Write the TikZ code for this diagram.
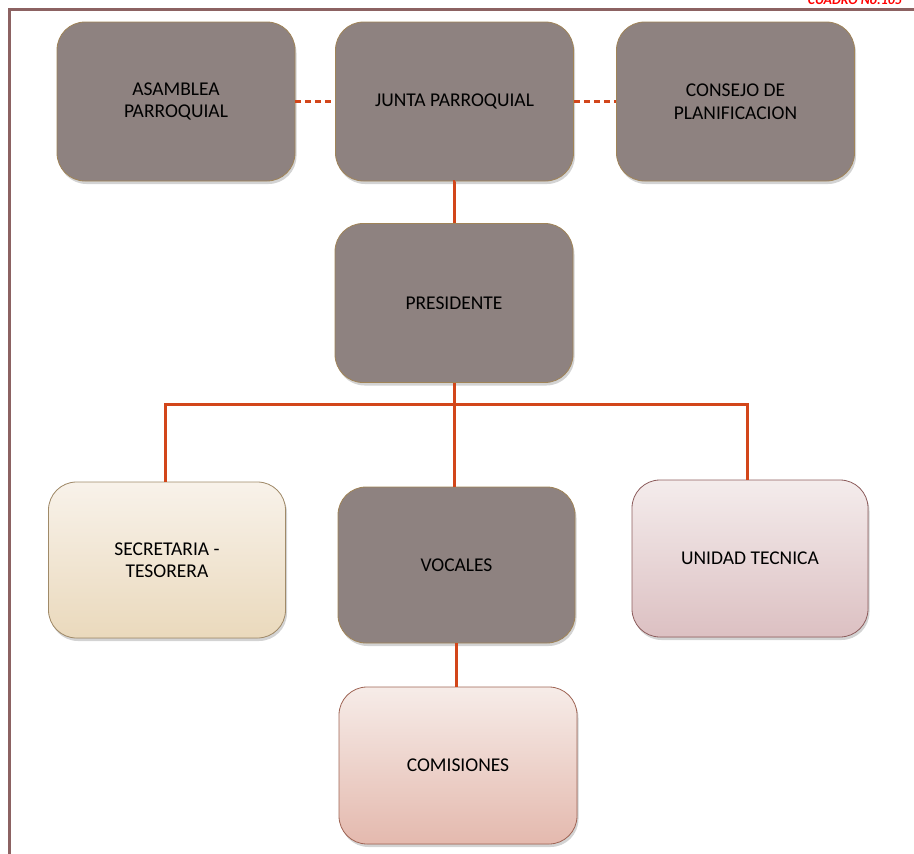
\documentclass[tikz,border=0pt]{standalone}
\usepackage{fontspec}
\setmainfont{Carlito}
\usetikzlibrary{shadows}
\definecolor{boxgray}{HTML}{8E8280}
\definecolor{boxedge}{HTML}{A08458}
\definecolor{lineor}{HTML}{D2461A}
\definecolor{framec}{HTML}{8C6262}
\definecolor{BrownTan}{HTML}{A08A68}
\definecolor{SecTop}{HTML}{F8F2EA}
\definecolor{SecBot}{HTML}{EAD9BC}
\definecolor{UniEdge}{HTML}{8E5E5E}
\definecolor{UniTop}{HTML}{F4ECEC}
\definecolor{UniBot}{HTML}{DCC0C2}
\definecolor{ComEdge}{HTML}{A06656}
\definecolor{ComTop}{HTML}{F6ECE8}
\definecolor{ComBot}{HTML}{E4B9AE}
\tikzset{
  orgbox/.style={draw=boxedge, line width=0.8pt, fill=boxgray, rounded corners=28pt,
    minimum width=238pt, minimum height=159pt, align=center, font=\fontsize{19.5}{22.5}\selectfont,
    text=black, drop shadow={shadow xshift=1.5pt, shadow yshift=-3pt, opacity=0.35}},
  secbox/.style={orgbox, draw=BrownTan, top color=SecTop, bottom color=SecBot},
  unibox/.style={orgbox, draw=UniEdge, top color=UniTop, bottom color=UniBot},
  combox/.style={orgbox, draw=ComEdge, top color=ComTop, bottom color=ComBot},
  conn/.style={draw=lineor, line width=3pt},
  dconn/.style={conn, dash pattern=on 6pt off 4pt},
}
\begin{document}
\begin{tikzpicture}[x=1pt,y=-1pt]
\useasboundingbox (0,0) rectangle (914,854);
% frame
\draw[framec, line width=3pt] (9.5,854) -- (9.5,9.5) -- (914,9.5);
\node[anchor=base east, text=red, font=\fontsize{13.8}{16}\selectfont\bfseries\itshape, inner sep=0pt] (title) at (902,4.5) {CUADRO No.105};
% boxes
\node[orgbox] (asam) at (176,101.5) {ASAMBLEA\\PARROQUIAL};
\node[orgbox] (junta) at (454.5,101.5) {JUNTA PARROQUIAL};
\node[orgbox] (cons) at (735.5,101.5) {CONSEJO DE\\PLANIFICACION};
\node[orgbox] (pres) at (454,303) {PRESIDENTE};
\node[secbox, minimum width=237pt, minimum height=156pt] (sec) at (167,560) {SECRETARIA -\\TESORERA};
\node[orgbox, minimum width=237pt, minimum height=156pt] (voc) at (456.5,565) {VOCALES};
\node[unibox, minimum width=236pt, minimum height=157pt] (uni) at (750,558.5) {UNIDAD TECNICA};
\node[combox, minimum width=238pt, minimum height=157pt] (com) at (458,765.5) {COMISIONES};
% connectors
\draw[dconn] (asam.east) -- (junta.west);
\draw[dconn] (junta.east) -- (cons.west);
\draw[conn] (junta.south) -- (pres.south |- junta.south) -- (pres.north);
\coordinate (hl) at (165.5,404.5);
\coordinate (hr) at (747.5,404.5);
\draw[conn] (pres.south) -- (voc.north -| pres.south);
\draw[conn] (sec.north -| hl) -- (hl) -- (hr) -- (uni.north -| hr);
\draw[conn] (voc.south) -- (com.north -| voc.south);
\end{tikzpicture}
\end{document}
